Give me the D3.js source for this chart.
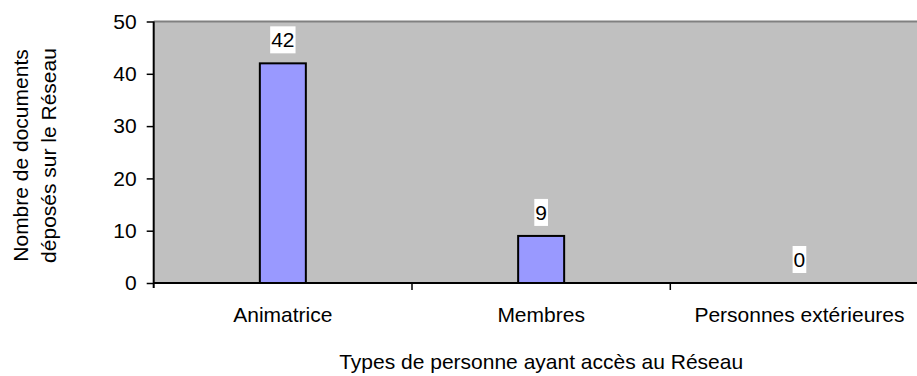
<!DOCTYPE html>
<html>
<head>
<meta charset="utf-8">
<script src="https://cdn.jsdelivr.net/npm/d3@7"></script>
<style>
  html, body { margin: 0; padding: 0; background: #fff; }
  svg { display: block; font-family: Arial, "Liberation Sans", sans-serif; }
</style>
</head>
<body>
<svg id="chart" width="917" height="376"></svg>
<script>
// Documents posted on the network, by type of person
const categories = ["Animatrice", "Membres", "Personnes extérieures"];
const documents = [42, 9, 0];
const yTicks = [0, 10, 20, 30, 40, 50];
const xTitle = "Types de personne ayant accès au Réseau";
const yTitleLines = ["Nombre de documents", "déposés sur le Réseau"];

const svg = d3.select("#chart");
const fontSize = 21;

// plot frame (the category axis continues past the right edge)
const plotLeft = 153.7, plotTop = 21.5, plotBottom = 283, bandW = 258.3;
const plotRight = plotLeft + bandW * categories.length;

const x = d3.scaleBand().domain(categories).range([plotLeft, plotRight]).paddingInner(0).paddingOuter(0);
const y = d3.scaleLinear().domain([0, 50]).range([plotBottom, plotTop]);

// plot background
svg.append("rect")
  .attr("x", plotLeft).attr("y", plotTop)
  .attr("width", plotRight - plotLeft).attr("height", plotBottom - plotTop)
  .attr("fill", "#c0c0c0");
svg.append("line")
  .attr("x1", plotLeft).attr("x2", plotRight)
  .attr("y1", plotTop).attr("y2", plotTop)
  .attr("stroke", "#808080").attr("stroke-width", 2);

// bars
const barW = 46;
svg.append("g").selectAll("rect")
  .data(categories)
  .join("rect")
  .attr("x", d => x(d) + x.bandwidth() / 2 - barW / 2)
  .attr("y", (d, i) => y(documents[i]))
  .attr("width", barW)
  .attr("height", (d, i) => y(0) - y(documents[i]))
  .attr("fill", "#9999ff")
  .attr("stroke", "#000")
  .attr("stroke-width", 2)
  .attr("display", (d, i) => documents[i] > 0 ? null : "none");

// value labels on white boxes
const labels = svg.append("g").selectAll("g")
  .data(categories)
  .join("g")
  .attr("transform", (d, i) => `translate(${x(d) + x.bandwidth() / 2},${y(documents[i]) - 10})`);
labels.each(function(d, i) {
  const g = d3.select(this);
  const t = g.append("text")
    .attr("text-anchor", "middle")
    .attr("y", -6)
    .attr("font-size", fontSize)
    .attr("fill", "#000")
    .text(documents[i]);
  const bb = t.node().getBBox();
  g.insert("rect", "text")
    .attr("x", bb.x - 1).attr("y", -27)
    .attr("width", bb.width + 2).attr("height", 27)
    .attr("fill", "#fff");
});

// y axis
const yAxis = svg.append("g")
  .attr("transform", `translate(${plotLeft},0)`)
  .call(d3.axisLeft(y).tickValues(yTicks).tickSize(7).tickPadding(10));
yAxis.select(".domain").attr("stroke", "#000").attr("stroke-width", 2)
  .attr("d", `M0,${plotTop}V${plotBottom + 5}`);
yAxis.selectAll(".tick line").attr("stroke", "#000").attr("stroke-width", 1.5);
yAxis.selectAll(".tick text").attr("font-size", fontSize).attr("fill", "#000")
  .attr("font-family", "Arial, 'Liberation Sans', sans-serif");

// x axis: ticks sit on the category boundaries
const xAxis = svg.append("g").attr("transform", `translate(0,${plotBottom})`);
xAxis.append("line")
  .attr("x1", plotLeft).attr("x2", plotRight)
  .attr("stroke", "#000").attr("stroke-width", 2);
xAxis.selectAll("line.b")
  .data(categories.slice(1))
  .join("line")
  .attr("class", "b")
  .attr("x1", d => x(d)).attr("x2", d => x(d))
  .attr("y1", 0).attr("y2", 7)
  .attr("stroke", "#000").attr("stroke-width", 1.5);
xAxis.selectAll("text")
  .data(categories)
  .join("text")
  .attr("x", d => x(d) + x.bandwidth() / 2)
  .attr("y", 39)
  .attr("text-anchor", "middle")
  .attr("font-size", fontSize)
  .attr("fill", "#000")
  .text(d => d);

// axis titles
svg.append("text")
  .attr("x", (plotLeft + plotRight) / 2)
  .attr("y", 369)
  .attr("text-anchor", "middle")
  .attr("font-size", fontSize)
  .attr("fill", "#000")
  .text(xTitle);

const yt = svg.append("text")
  .attr("transform", "translate(0,155.5) rotate(-90)")
  .attr("text-anchor", "middle")
  .attr("font-size", fontSize)
  .attr("fill", "#000");
yt.selectAll("tspan")
  .data(yTitleLines)
  .join("tspan")
  .attr("x", 0)
  .attr("y", (d, i) => 28 + i * 27.5)
  .text(d => d);
</script>
</body>
</html>
